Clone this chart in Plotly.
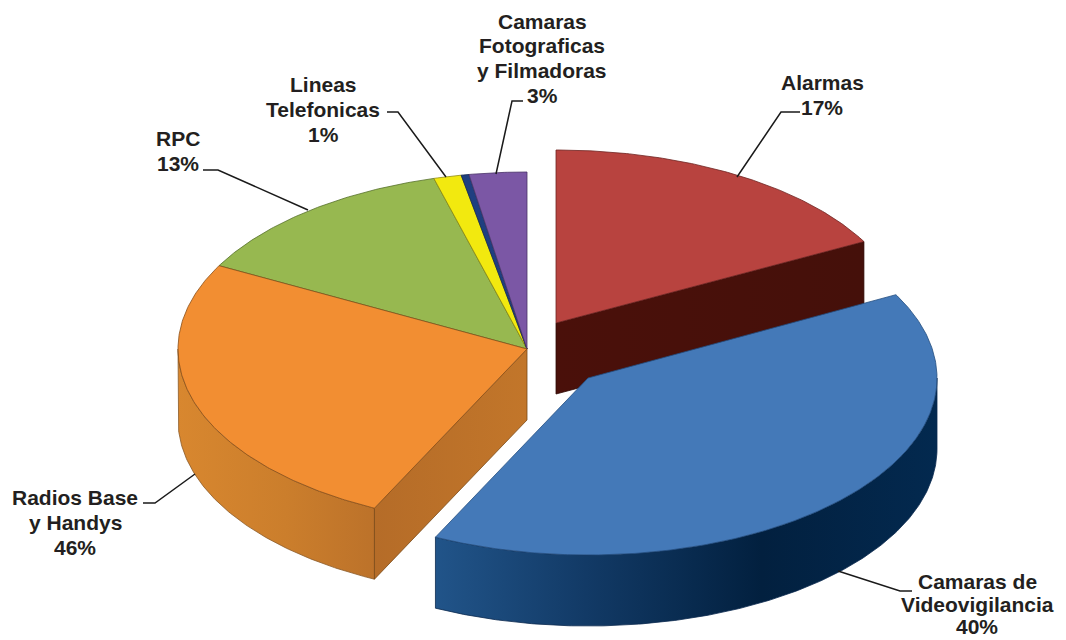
import numpy as np
import plotly.graph_objects as go

names = ["Alarmas", "Camaras de Videovigilancia", "Radios Base y Handys", "RPC",
         "Lineas Telefonicas", "Otros", "Camaras Fotograficas y Filmadoras"]
shares = [17.2, 40.0, 25.6, 12.9, 1.28, 0.36, 2.66]
# Percentages printed on the labels
printed = ["17%", "40%", "46%", "13%", "1%", None, "3%"]
top_colors = ["#B8433F", "#4479B8", "#F28E32", "#97B850", "#F2E90F", "#1F3F80", "#7B57A5"]
edge_colors = ["#6E2522", "#234E80", "#8A4F18", "#55702A", "#8F8A10", "#14284F", "#4A3368"]

RX, RY, DEPTH = 349, 177, 71
centers = {0: (556, 323), 1: (588, 378)}
radii_y = {0: 173}
main_center = (527, 349)

total = sum(shares)
edges = np.cumsum([0] + shares) / total * 360


def center_of(i):
    return centers.get(i, main_center)


def arc(i, a0, a1, dy=0):
    c = center_of(i)
    ry = radii_y.get(i, RY)
    t = np.radians(np.linspace(a0, a1, max(int(abs(a1 - a0) * 2), 4)))
    return c[0] + RX * np.sin(t), c[1] - ry * np.cos(t) + dy


fig = go.Figure()


def poly(xs, ys, color=None, line=None, gradient=None, width=0.8):
    kw = {"fillgradient": gradient} if gradient else {"fillcolor": color}
    fig.add_trace(go.Scatter(x=list(xs), y=list(ys), mode="lines", fill="toself",
                             line=dict(color=line or "rgba(0,0,0,0)", width=width),
                             hoverinfo="skip", showlegend=False, **kw))


def rim(i, colorscale, line):
    a0, a1 = max(edges[i], 90), min(edges[i + 1], 270)
    x0, y0 = arc(i, a0, a1)
    x1, y1 = arc(i, a1, a0, DEPTH)
    poly(np.r_[x0, x1, x0[0]], np.r_[y0, y1, y0[0]], line=line,
         gradient=dict(type="horizontal", colorscale=colorscale))


def cut_wall(i, angle, colorscale, line):
    c = center_of(i)
    x, y = arc(i, angle, angle + 1e-6)
    px, py = x[0], y[0]
    poly([c[0], px, px, c[0], c[0]], [c[1], py, py + DEPTH, c[1] + DEPTH, c[1]], line=line,
         gradient=dict(type="horizontal", colorscale=colorscale))


def top(i):
    c = center_of(i)
    x, y = arc(i, edges[i], edges[i + 1])
    poly(np.r_[c[0], x, c[0]], np.r_[c[1], y, c[1]], color=top_colors[i], line=edge_colors[i])


# back-to-front drawing order
cut_wall(0, edges[1], [[0, "#4A100A"], [1, "#45100A"]], "#2E0A06")
top(0)
rim(2, [[0, "#D8872F"], [0.55, "#CB7E2C"], [1, "#BC722A"]], "#8A5A28")
cut_wall(2, edges[2], [[0, "#B56C28"], [1, "#C2762A"]], "#7A4A18")
for i in [3, 4, 5, 6, 2]:
    top(i)
rim(1, [[0, "#215489"], [0.3, "#123A66"], [0.65, "#02203F"], [1, "#03294F"]], "#0B2A4F")
top(1)

# Label text, one entry per printed line
label_lines = [
    (["Camaras", "Fotograficas", "y Filmadoras", printed[6]], 542, [21, 45, 70, 95]),
    (["Alarmas", printed[0]], 822, [82, 107]),
    (["Lineas", "Telefonicas", printed[4]], 323, [84, 109, 134]),
    (["RPC", printed[3]], 178, [138, 163]),
    (["Radios Base", "y Handys", printed[2]], 75, [497, 522, 547]),
    (["Camaras de", "Videovigilancia", printed[1]], 977, [581, 604, 626]),
]
for lines, cx, ys in label_lines:
    for text, y in zip(lines, ys):
        fig.add_annotation(x=cx, y=y, text="<b>" + text + "</b>", showarrow=False,
                           xanchor="center", yanchor="middle",
                           font=dict(family="Liberation Sans", size=21, color="#231F20"))

leaders = [
    [(523, 101), (512, 101), (496, 174)],
    [(387, 112), (398, 112), (446, 177)],
    [(203, 170), (218, 170), (308, 210)],
    [(800, 112), (781, 112), (737, 177)],
    [(143, 503), (155, 503), (195, 474)],
    [(912, 591), (900, 591), (838, 571)],
]
for pts in leaders:
    path = "M " + " L ".join(f"{x},{y}" for x, y in pts)
    fig.add_shape(type="path", path=path, line=dict(color="#1A1A1A", width=1.5), xref="x", yref="y")

fig.update_xaxes(range=[0, 1066], visible=False, fixedrange=True)
fig.update_yaxes(range=[640, 0], visible=False, fixedrange=True)
fig.update_layout(width=1066, height=640, margin=dict(l=0, r=0, t=0, b=0),
                  paper_bgcolor="white", plot_bgcolor="white", showlegend=False)
fig.write_html("out.html", config={"displayModeBar": False},
               post_script="document.body.style.margin='0';document.documentElement.style.overflow='hidden';")
